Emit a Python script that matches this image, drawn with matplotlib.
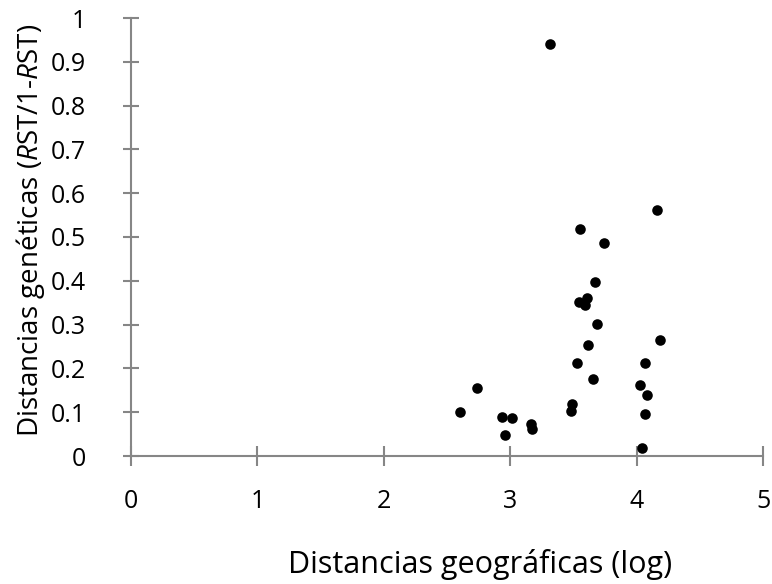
import matplotlib
matplotlib.use("Agg")
import matplotlib.pyplot as plt

x_geo = [3.668, 3.544, 3.604, 3.589, 3.683, 4.183, 3.612, 3.531, 4.070, 3.657,
         2.739, 4.025, 4.081, 3.486, 3.478, 2.602, 2.934, 3.012, 4.065, 3.165,
         3.175, 2.960, 4.043, 3.315, 4.165, 3.549, 3.744]
y_gen = [0.398, 0.352, 0.360, 0.345, 0.302, 0.265, 0.253, 0.212, 0.212, 0.175,
         0.156, 0.161, 0.139, 0.119, 0.103, 0.100, 0.090, 0.086, 0.096, 0.073,
         0.062, 0.048, 0.018, 0.940, 0.562, 0.518, 0.487]
x_ticks = [0, 1, 2, 3, 4, 5]
y_ticks = [0, 0.1, 0.2, 0.3, 0.4, 0.5, 0.6, 0.7, 0.8, 0.9, 1]
y_tick_labels = ["0", "0.1", "0.2", "0.3", "0.4", "0.5", "0.6", "0.7", "0.8", "0.9", "1"]

plt.rcParams['font.family'] = ['Open Sans', 'DejaVu Sans']
plt.rcParams['mathtext.fontset'] = 'custom'
plt.rcParams['mathtext.it'] = 'Open Sans:italic'
plt.rcParams['mathtext.rm'] = 'Open Sans'

fig = plt.figure(figsize=(7.72, 5.84), dpi=100)
ax = fig.add_axes([131/772, 1-456/584, (763-131)/772, (456-18)/584])

ax.scatter(x_geo, y_gen, s=58, color='black', zorder=3, linewidths=0)

ax.set_xlim(0, 5)
ax.set_ylim(0, 1)
ax.set_xticks(x_ticks)
ax.set_yticks(y_ticks)
ax.set_yticklabels(y_tick_labels)

gray = '#868686'
for s in ['top', 'right']:
    ax.spines[s].set_visible(False)
for s in ['left', 'bottom']:
    ax.spines[s].set_color(gray)
    ax.spines[s].set_linewidth(1.5)
ax.tick_params(axis='x', direction='inout', length=14, width=1.5, color=gray,
               labelsize=18, pad=17)
ax.tick_params(axis='y', direction='inout', length=11, width=1.5, color=gray,
               labelsize=18, pad=27)

fig.text(480/772, 1-565/584, "Distancias geográficas (log)", fontsize=22,
         ha='center', va='center')
fig.text(31/772, 1-230/584, "Distancias genéticas ($R$ST/1-$R$ST)", fontsize=20,
         rotation=90, ha='center', va='center')

fig.savefig("out.png", dpi=100)
